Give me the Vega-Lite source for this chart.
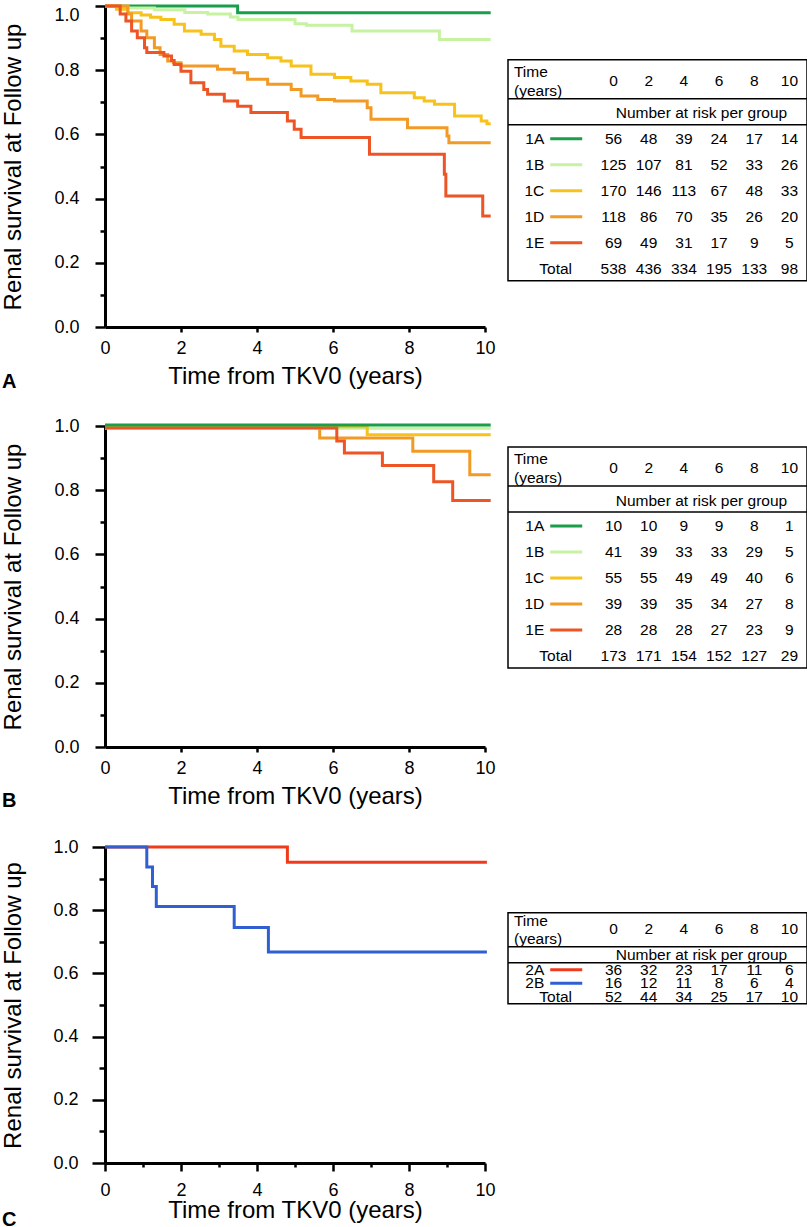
{
"$schema": "https://vega.github.io/schema/vega-lite/v6.json",
"padding": {"left": 1, "top": 0, "right": 0, "bottom": 0},
"background": "white",
"config": {
  "view": {"stroke": null},
  "font": "Liberation Sans",
  "axis": {"domainColor": "black", "domainWidth": 3, "tickColor": "black", "tickWidth": 2.5, "labelColor": "black", "labelFontSize": 18, "labelFont": "Liberation Sans", "titleFont": "Liberation Sans", "titleFontSize": 24, "titleFontWeight": "normal", "titleColor": "black", "grid": false, "labelFlush": false, "labelOverlap": false},
  "text": {"font": "Liberation Sans", "fontSize": 15.5, "color": "black", "baseline": "middle"},
  "title": {"font": "Liberation Sans", "color": "black"}
},
"datasets": {
  "kmA": [
    {"g":"1A","t":0,"s":1},{"g":"1A","t":3.49,"s":0.979},{"g":"1A","t":10.15,"s":0.979},
    {"g":"1B","t":0,"s":1},{"g":"1B","t":0.6,"s":0.994},{"g":"1B","t":1.3,"s":0.988},{"g":"1B","t":2.1,"s":0.98},{"g":"1B","t":2.7,"s":0.975},{"g":"1B","t":3.3,"s":0.966},{"g":"1B","t":3.5,"s":0.958},{"g":"1B","t":5.0,"s":0.945},{"g":"1B","t":5.3,"s":0.94},{"g":"1B","t":6.5,"s":0.922},{"g":"1B","t":8.8,"s":0.896},{"g":"1B","t":10.15,"s":0.896},
    {"g":"1C","t":0,"s":1},{"g":"1C","t":0.3,"s":0.99},{"g":"1C","t":0.6,"s":0.979},{"g":"1C","t":0.95,"s":0.972},{"g":"1C","t":1.2,"s":0.965},{"g":"1C","t":1.47,"s":0.958},{"g":"1C","t":1.82,"s":0.943},{"g":"1C","t":2.09,"s":0.922},{"g":"1C","t":2.53,"s":0.912},{"g":"1C","t":2.88,"s":0.896},{"g":"1C","t":3.05,"s":0.875},{"g":"1C","t":3.4,"s":0.86},{"g":"1C","t":3.75,"s":0.849},{"g":"1C","t":4.28,"s":0.839},{"g":"1C","t":4.63,"s":0.829},{"g":"1C","t":4.9,"s":0.813},{"g":"1C","t":5.42,"s":0.787},{"g":"1C","t":6.04,"s":0.777},{"g":"1C","t":6.47,"s":0.766},{"g":"1C","t":6.9,"s":0.756},{"g":"1C","t":7.26,"s":0.73},{"g":"1C","t":8.14,"s":0.714},{"g":"1C","t":8.4,"s":0.704},{"g":"1C","t":8.67,"s":0.694},{"g":"1C","t":9.2,"s":0.657},{"g":"1C","t":9.9,"s":0.642},{"g":"1C","t":10.05,"s":0.633},{"g":"1C","t":10.15,"s":0.633},
    {"g":"1D","t":0,"s":1},{"g":"1D","t":0.6,"s":0.975},{"g":"1D","t":0.7,"s":0.953},{"g":"1D","t":0.95,"s":0.922},{"g":"1D","t":1.1,"s":0.901},{"g":"1D","t":1.3,"s":0.87},{"g":"1D","t":1.45,"s":0.849},{"g":"1D","t":1.65,"s":0.829},{"g":"1D","t":1.8,"s":0.823},{"g":"1D","t":2.0,"s":0.813},{"g":"1D","t":2.96,"s":0.803},{"g":"1D","t":3.4,"s":0.792},{"g":"1D","t":3.75,"s":0.772},{"g":"1D","t":4.28,"s":0.756},{"g":"1D","t":4.9,"s":0.74},{"g":"1D","t":5.16,"s":0.72},{"g":"1D","t":5.6,"s":0.709},{"g":"1D","t":6.04,"s":0.704},{"g":"1D","t":6.9,"s":0.683},{"g":"1D","t":7.0,"s":0.647},{"g":"1D","t":7.96,"s":0.621},{"g":"1D","t":9.0,"s":0.595},{"g":"1D","t":9.05,"s":0.574},{"g":"1D","t":10.15,"s":0.574},
    {"g":"1E","t":0,"s":1},{"g":"1E","t":0.4,"s":0.975},{"g":"1E","t":0.55,"s":0.953},{"g":"1E","t":0.7,"s":0.922},{"g":"1E","t":0.85,"s":0.901},{"g":"1E","t":1.04,"s":0.87},{"g":"1E","t":1.1,"s":0.855},{"g":"1E","t":1.55,"s":0.844},{"g":"1E","t":1.75,"s":0.83},{"g":"1E","t":1.82,"s":0.818},{"g":"1E","t":2.0,"s":0.797},{"g":"1E","t":2.26,"s":0.761},{"g":"1E","t":2.6,"s":0.74},{"g":"1E","t":2.7,"s":0.725},{"g":"1E","t":3.14,"s":0.704},{"g":"1E","t":3.49,"s":0.688},{"g":"1E","t":3.84,"s":0.668},{"g":"1E","t":4.8,"s":0.642},{"g":"1E","t":4.98,"s":0.616},{"g":"1E","t":5.16,"s":0.59},{"g":"1E","t":6.96,"s":0.538},{"g":"1E","t":8.93,"s":0.476},{"g":"1E","t":8.97,"s":0.408},{"g":"1E","t":9.94,"s":0.346},{"g":"1E","t":10.15,"s":0.346}
  ],
  "kmB": [
    {"g":"1D","t":0,"s":1},{"g":"1D","t":5.65,"s":0.963},{"g":"1D","t":8.1,"s":0.921},{"g":"1D","t":9.6,"s":0.848},{"g":"1D","t":10.15,"s":0.848},
    {"g":"1B","t":0,"s":0.993},{"g":"1B","t":10.15,"s":0.993},
    {"g":"1C","t":0,"s":0.998},{"g":"1C","t":6.9,"s":0.973},{"g":"1C","t":10.15,"s":0.973},
    {"g":"1E","t":0,"s":0.994},{"g":"1E","t":6.1,"s":0.953},{"g":"1E","t":6.3,"s":0.916},{"g":"1E","t":7.3,"s":0.877},{"g":"1E","t":8.65,"s":0.826},{"g":"1E","t":9.15,"s":0.768},{"g":"1E","t":10.15,"s":0.768},
    {"g":"1A","t":0,"s":1.003},{"g":"1A","t":10.15,"s":1.003}
  ],
  "kmC": [
    {"g":"2A","t":0,"s":1},{"g":"2A","t":4.8,"s":0.952},{"g":"2A","t":10.05,"s":0.952},
    {"g":"2B","t":0,"s":1},{"g":"2B","t":1.1,"s":0.937},{"g":"2B","t":1.25,"s":0.875},{"g":"2B","t":1.35,"s":0.812},{"g":"2B","t":3.4,"s":0.745},{"g":"2B","t":4.3,"s":0.668},{"g":"2B","t":10.05,"s":0.668}
  ],
  "groups": [
    {"tab":"A","g":"1A","row":1},{"tab":"A","g":"1B","row":2},{"tab":"A","g":"1C","row":3},{"tab":"A","g":"1D","row":4},{"tab":"A","g":"1E","row":5},
    {"tab":"B","g":"1A","row":1},{"tab":"B","g":"1B","row":2},{"tab":"B","g":"1C","row":3},{"tab":"B","g":"1D","row":4},{"tab":"B","g":"1E","row":5},
    {"tab":"C","g":"2A","row":1},{"tab":"C","g":"2B","row":2}
  ],
  "risk": [
    {"tab":"A","row":1,"t":0,"n":56},{"tab":"A","row":1,"t":2,"n":48},{"tab":"A","row":1,"t":4,"n":39},{"tab":"A","row":1,"t":6,"n":24},{"tab":"A","row":1,"t":8,"n":17},{"tab":"A","row":1,"t":10,"n":14},
    {"tab":"A","row":2,"t":0,"n":125},{"tab":"A","row":2,"t":2,"n":107},{"tab":"A","row":2,"t":4,"n":81},{"tab":"A","row":2,"t":6,"n":52},{"tab":"A","row":2,"t":8,"n":33},{"tab":"A","row":2,"t":10,"n":26},
    {"tab":"A","row":3,"t":0,"n":170},{"tab":"A","row":3,"t":2,"n":146},{"tab":"A","row":3,"t":4,"n":113},{"tab":"A","row":3,"t":6,"n":67},{"tab":"A","row":3,"t":8,"n":48},{"tab":"A","row":3,"t":10,"n":33},
    {"tab":"A","row":4,"t":0,"n":118},{"tab":"A","row":4,"t":2,"n":86},{"tab":"A","row":4,"t":4,"n":70},{"tab":"A","row":4,"t":6,"n":35},{"tab":"A","row":4,"t":8,"n":26},{"tab":"A","row":4,"t":10,"n":20},
    {"tab":"A","row":5,"t":0,"n":69},{"tab":"A","row":5,"t":2,"n":49},{"tab":"A","row":5,"t":4,"n":31},{"tab":"A","row":5,"t":6,"n":17},{"tab":"A","row":5,"t":8,"n":9},{"tab":"A","row":5,"t":10,"n":5},
    {"tab":"A","row":6,"t":0,"n":538},{"tab":"A","row":6,"t":2,"n":436},{"tab":"A","row":6,"t":4,"n":334},{"tab":"A","row":6,"t":6,"n":195},{"tab":"A","row":6,"t":8,"n":133},{"tab":"A","row":6,"t":10,"n":98},
    {"tab":"B","row":1,"t":0,"n":10},{"tab":"B","row":1,"t":2,"n":10},{"tab":"B","row":1,"t":4,"n":9},{"tab":"B","row":1,"t":6,"n":9},{"tab":"B","row":1,"t":8,"n":8},{"tab":"B","row":1,"t":10,"n":1},
    {"tab":"B","row":2,"t":0,"n":41},{"tab":"B","row":2,"t":2,"n":39},{"tab":"B","row":2,"t":4,"n":33},{"tab":"B","row":2,"t":6,"n":33},{"tab":"B","row":2,"t":8,"n":29},{"tab":"B","row":2,"t":10,"n":5},
    {"tab":"B","row":3,"t":0,"n":55},{"tab":"B","row":3,"t":2,"n":55},{"tab":"B","row":3,"t":4,"n":49},{"tab":"B","row":3,"t":6,"n":49},{"tab":"B","row":3,"t":8,"n":40},{"tab":"B","row":3,"t":10,"n":6},
    {"tab":"B","row":4,"t":0,"n":39},{"tab":"B","row":4,"t":2,"n":39},{"tab":"B","row":4,"t":4,"n":35},{"tab":"B","row":4,"t":6,"n":34},{"tab":"B","row":4,"t":8,"n":27},{"tab":"B","row":4,"t":10,"n":8},
    {"tab":"B","row":5,"t":0,"n":28},{"tab":"B","row":5,"t":2,"n":28},{"tab":"B","row":5,"t":4,"n":28},{"tab":"B","row":5,"t":6,"n":27},{"tab":"B","row":5,"t":8,"n":23},{"tab":"B","row":5,"t":10,"n":9},
    {"tab":"B","row":6,"t":0,"n":173},{"tab":"B","row":6,"t":2,"n":171},{"tab":"B","row":6,"t":4,"n":154},{"tab":"B","row":6,"t":6,"n":152},{"tab":"B","row":6,"t":8,"n":127},{"tab":"B","row":6,"t":10,"n":29},
    {"tab":"C","row":1,"t":0,"n":36},{"tab":"C","row":1,"t":2,"n":32},{"tab":"C","row":1,"t":4,"n":23},{"tab":"C","row":1,"t":6,"n":17},{"tab":"C","row":1,"t":8,"n":11},{"tab":"C","row":1,"t":10,"n":6},
    {"tab":"C","row":2,"t":0,"n":16},{"tab":"C","row":2,"t":2,"n":12},{"tab":"C","row":2,"t":4,"n":11},{"tab":"C","row":2,"t":6,"n":8},{"tab":"C","row":2,"t":8,"n":6},{"tab":"C","row":2,"t":10,"n":4},
    {"tab":"C","row":3,"t":0,"n":52},{"tab":"C","row":3,"t":2,"n":44},{"tab":"C","row":3,"t":4,"n":34},{"tab":"C","row":3,"t":6,"n":25},{"tab":"C","row":3,"t":8,"n":17},{"tab":"C","row":3,"t":10,"n":10}
  ],
  "times": [{"t":0},{"t":2},{"t":4},{"t":6},{"t":8},{"t":10}],
  "one": [{}]
},
"columns": 2,
"bounds": "flush",
"align": "each",
"spacing": {"row": 0, "column": 23},
"concat": [
  {"width": 380, "height": 321,
   "title": {"text": "A", "orient": "bottom", "anchor": "start", "frame": "bounds", "fontSize": 20, "fontWeight": "bold", "offset": -16},
   "layer": [
    {"data": {"name": "kmA"}, "mark": {"type": "line", "interpolate": "step-after", "strokeWidth": 3},
     "encoding": {
      "x": {"field": "t", "type": "quantitative", "scale": {"domain": [0, 10], "nice": false, "zero": false},
            "axis": {"values": [0,2,4,6,8,10], "format": "d", "tickSize": 5, "labelPadding": 7, "title": "Time from TKV0 (years)", "titlePadding": 7,
                     "tickColor": {"condition": {"test": "datum.value === 0", "value": "transparent"}, "value": "black"}}},
      "y": {"field": "s", "type": "quantitative", "scale": {"domain": [0, 1], "nice": false, "zero": false},
            "axis": {"values": [0,0.2,0.4,0.6,0.8,1], "format": ".1f", "tickSize": 10, "labelPadding": 16, "title": "Renal survival at Follow up", "titlePadding": 28,
                     "labelBaseline": {"condition": {"test": "datum.value === 1", "value": "top"}, "value": "middle"}}},
      "color": {"field": "g", "type": "nominal", "scale": {"domain": ["1A","1B","1C","1D","1E","2A","2B"], "range": ["#1b9e4b","#c6f2a2","#f8c21c","#f29a26","#ee5526","#ef3b1c","#2f5fd0"]}, "legend": null}
     }},
    {"data": {"name": "one"}, "mark": {"type": "point", "opacity": 0},
     "encoding": {"y": {"datum": 0.5, "type": "quantitative", "axis": {"orient": "left", "values": [0.1,0.3,0.5,0.7,0.9], "tickSize": 5, "labels": false, "domain": false, "title": null}}}}
   ],
   "resolve": {"axis": {"y": "independent"}}
  },
  {"width": 299, "height": 419.5,
   "layer": [
    {"data": {"name": "one"}, "mark": {"type": "rect", "fill": "transparent", "stroke": "black", "strokeWidth": 1.5},
     "encoding": {"x": {"datum": -6, "type": "quantitative", "scale": {"domain": [-6, 11], "nice": false, "zero": false}, "axis": null}, "x2": {"datum": 11},
                  "y": {"datum": -2.04, "type": "quantitative", "scale": {"domain": [-4.108, 12.027], "nice": false, "zero": false, "reverse": true}, "axis": null}, "y2": {"datum": 6.46}}},
    {"data": {"name": "one"}, "mark": {"type": "rule", "stroke": "black", "strokeWidth": 1.5},
     "encoding": {"x": {"datum": -6, "type": "quantitative"}, "x2": {"datum": 11}, "y": {"datum": -0.54, "type": "quantitative"}}},
    {"data": {"name": "one"}, "mark": {"type": "rule", "stroke": "black", "strokeWidth": 1.5},
     "encoding": {"x": {"datum": -6, "type": "quantitative"}, "x2": {"datum": 11}, "y": {"datum": 0.46, "type": "quantitative"}}},
    {"data": {"name": "one"}, "mark": {"type": "text", "align": "left"},
     "encoding": {"x": {"datum": -5.66, "type": "quantitative"}, "y": {"datum": -1.56, "type": "quantitative"}, "text": {"value": "Time"}}},
    {"data": {"name": "one"}, "mark": {"type": "text", "align": "left"},
     "encoding": {"x": {"datum": -5.66, "type": "quantitative"}, "y": {"datum": -0.85, "type": "quantitative"}, "text": {"value": "(years)"}}},
    {"data": {"name": "times"}, "mark": {"type": "text"},
     "encoding": {"x": {"field": "t", "type": "quantitative"}, "y": {"datum": -1.23, "type": "quantitative"}, "text": {"field": "t"}}},
    {"data": {"name": "one"}, "mark": {"type": "text"},
     "encoding": {"x": {"datum": 5.0, "type": "quantitative"}, "y": {"datum": 0.02, "type": "quantitative"}, "text": {"value": "Number at risk per group"}}},
    {"data": {"name": "risk"}, "transform": [{"filter": "datum.tab === 'A'"}], "mark": {"type": "text"},
     "encoding": {"x": {"field": "t", "type": "quantitative"}, "y": {"field": "row", "type": "quantitative"}, "text": {"field": "n"}}},
    {"data": {"name": "groups"}, "transform": [{"filter": "datum.tab === 'A'"}], "mark": {"type": "text", "align": "right"},
     "encoding": {"x": {"datum": -3.94, "type": "quantitative"}, "y": {"field": "row", "type": "quantitative"}, "text": {"field": "g"}}},
    {"data": {"name": "groups"}, "transform": [{"filter": "datum.tab === 'A'"}], "mark": {"type": "rule", "strokeWidth": 3},
     "encoding": {"x": {"datum": -3.6, "type": "quantitative"}, "x2": {"datum": -1.78}, "y": {"field": "row", "type": "quantitative"},
                  "color": {"field": "g", "type": "nominal", "legend": null}}},
    {"data": {"name": "one"}, "mark": {"type": "text"},
     "encoding": {"x": {"datum": -3.29, "type": "quantitative"}, "y": {"datum": 6, "type": "quantitative"}, "text": {"value": "Total"}}}
   ]
  },
  {"width": 380, "height": 321,
   "title": {"text": "B", "orient": "bottom", "anchor": "start", "frame": "bounds", "fontSize": 20, "fontWeight": "bold", "offset": -17},
   "layer": [
    {"data": {"name": "kmB"}, "mark": {"type": "line", "interpolate": "step-after", "strokeWidth": 3},
     "encoding": {
      "x": {"field": "t", "type": "quantitative", "scale": {"domain": [0, 10], "nice": false, "zero": false},
            "axis": {"values": [0,2,4,6,8,10], "format": "d", "tickSize": 5, "labelPadding": 7, "title": "Time from TKV0 (years)", "titlePadding": 7,
                     "tickColor": {"condition": {"test": "datum.value === 0", "value": "transparent"}, "value": "black"}}},
      "y": {"field": "s", "type": "quantitative", "scale": {"domain": [0, 1], "nice": false, "zero": false},
            "axis": {"values": [0,0.2,0.4,0.6,0.8,1], "format": ".1f", "tickSize": 10, "labelPadding": 16, "title": "Renal survival at Follow up", "titlePadding": 28}},
      "color": {"field": "g", "type": "nominal", "scale": {"domain": ["1A","1B","1C","1D","1E","2A","2B"], "range": ["#1b9e4b","#c6f2a2","#f8c21c","#f29a26","#ee5526","#ef3b1c","#2f5fd0"]}, "legend": null}
     }},
    {"data": {"name": "one"}, "mark": {"type": "point", "opacity": 0},
     "encoding": {"y": {"datum": 0.5, "type": "quantitative", "axis": {"orient": "left", "values": [0.1,0.3,0.5,0.7,0.9], "tickSize": 5, "labels": false, "domain": false, "title": null}}}}
   ],
   "resolve": {"axis": {"y": "independent"}}
  },
  {"width": 299, "height": 420.3,
   "layer": [
    {"data": {"name": "one"}, "mark": {"type": "rect", "fill": "transparent", "stroke": "black", "strokeWidth": 1.5},
     "encoding": {"x": {"datum": -6, "type": "quantitative", "scale": {"domain": [-6, 11], "nice": false, "zero": false}, "axis": null}, "x2": {"datum": 11},
                  "y": {"datum": -2.04, "type": "quantitative", "scale": {"domain": [-2.846, 13.319], "nice": false, "zero": false, "reverse": true}, "axis": null}, "y2": {"datum": 6.46}}},
    {"data": {"name": "one"}, "mark": {"type": "rule", "stroke": "black", "strokeWidth": 1.5},
     "encoding": {"x": {"datum": -6, "type": "quantitative"}, "x2": {"datum": 11}, "y": {"datum": -0.54, "type": "quantitative"}}},
    {"data": {"name": "one"}, "mark": {"type": "rule", "stroke": "black", "strokeWidth": 1.5},
     "encoding": {"x": {"datum": -6, "type": "quantitative"}, "x2": {"datum": 11}, "y": {"datum": 0.46, "type": "quantitative"}}},
    {"data": {"name": "one"}, "mark": {"type": "text", "align": "left"},
     "encoding": {"x": {"datum": -5.66, "type": "quantitative"}, "y": {"datum": -1.56, "type": "quantitative"}, "text": {"value": "Time"}}},
    {"data": {"name": "one"}, "mark": {"type": "text", "align": "left"},
     "encoding": {"x": {"datum": -5.66, "type": "quantitative"}, "y": {"datum": -0.85, "type": "quantitative"}, "text": {"value": "(years)"}}},
    {"data": {"name": "times"}, "mark": {"type": "text"},
     "encoding": {"x": {"field": "t", "type": "quantitative"}, "y": {"datum": -1.23, "type": "quantitative"}, "text": {"field": "t"}}},
    {"data": {"name": "one"}, "mark": {"type": "text"},
     "encoding": {"x": {"datum": 5.0, "type": "quantitative"}, "y": {"datum": 0.02, "type": "quantitative"}, "text": {"value": "Number at risk per group"}}},
    {"data": {"name": "risk"}, "transform": [{"filter": "datum.tab === 'B'"}], "mark": {"type": "text"},
     "encoding": {"x": {"field": "t", "type": "quantitative"}, "y": {"field": "row", "type": "quantitative"}, "text": {"field": "n"}}},
    {"data": {"name": "groups"}, "transform": [{"filter": "datum.tab === 'B'"}], "mark": {"type": "text", "align": "right"},
     "encoding": {"x": {"datum": -3.94, "type": "quantitative"}, "y": {"field": "row", "type": "quantitative"}, "text": {"field": "g"}}},
    {"data": {"name": "groups"}, "transform": [{"filter": "datum.tab === 'B'"}], "mark": {"type": "rule", "strokeWidth": 3},
     "encoding": {"x": {"datum": -3.6, "type": "quantitative"}, "x2": {"datum": -1.78}, "y": {"field": "row", "type": "quantitative"},
                  "color": {"field": "g", "type": "nominal", "legend": null}}},
    {"data": {"name": "one"}, "mark": {"type": "text"},
     "encoding": {"x": {"datum": -3.29, "type": "quantitative"}, "y": {"datum": 6, "type": "quantitative"}, "text": {"value": "Total"}}}
   ]
  },
  {"width": 380, "height": 316,
   "title": {"text": "C", "orient": "bottom", "anchor": "start", "frame": "bounds", "fontSize": 20, "fontWeight": "bold", "offset": -12},
   "layer": [
    {"data": {"name": "kmC"}, "mark": {"type": "line", "interpolate": "step-after", "strokeWidth": 3},
     "encoding": {
      "x": {"field": "t", "type": "quantitative", "scale": {"domain": [0, 10], "nice": false, "zero": false},
            "axis": {"values": [0,2,4,6,8,10], "format": "d", "tickSize": 8, "labelPadding": 10, "title": "Time from TKV0 (years)", "titlePadding": -1}},
      "y": {"field": "s", "type": "quantitative", "scale": {"domain": [0, 1], "nice": false, "zero": false},
            "axis": {"values": [0,0.2,0.4,0.6,0.8,1], "format": ".1f", "tickSize": 13, "labelPadding": 14, "title": "Renal survival at Follow up", "titlePadding": 27}},
      "color": {"field": "g", "type": "nominal", "scale": {"domain": ["1A","1B","1C","1D","1E","2A","2B"], "range": ["#1b9e4b","#c6f2a2","#f8c21c","#f29a26","#ee5526","#ef3b1c","#2f5fd0"]}, "legend": null}
     }},
    {"data": {"name": "one"}, "mark": {"type": "point", "opacity": 0},
     "encoding": {"y": {"datum": 0.5, "type": "quantitative", "axis": {"orient": "left", "values": [0.1,0.3,0.5,0.7,0.9], "tickSize": 6, "labels": false, "domain": false, "title": null}},
                  "x": {"datum": 5, "type": "quantitative", "axis": {"orient": "bottom", "values": [1,3,5,7,9], "tickSize": 4, "labels": false, "domain": false, "title": null}}}}
   ],
   "resolve": {"axis": {"y": "independent", "x": "independent"}}
  },
  {"width": 299, "height": 316,
   "layer": [
    {"data": {"name": "one"}, "mark": {"type": "rect", "fill": "transparent", "stroke": "black", "strokeWidth": 1.5},
     "encoding": {"x": {"datum": -6, "type": "quantitative", "scale": {"domain": [-6, 11], "nice": false, "zero": false}, "axis": null}, "x2": {"datum": 11},
                  "y": {"datum": -3.22, "type": "quantitative", "scale": {"domain": [-8.089, 15.319], "nice": false, "zero": false, "reverse": true}, "axis": null}, "y2": {"datum": 3.52}}},
    {"data": {"name": "one"}, "mark": {"type": "rule", "stroke": "black", "strokeWidth": 1.5},
     "encoding": {"x": {"datum": -6, "type": "quantitative"}, "x2": {"datum": 11}, "y": {"datum": -0.7, "type": "quantitative"}}},
    {"data": {"name": "one"}, "mark": {"type": "rule", "stroke": "black", "strokeWidth": 1.5},
     "encoding": {"x": {"datum": -6, "type": "quantitative"}, "x2": {"datum": 11}, "y": {"datum": 0.48, "type": "quantitative"}}},
    {"data": {"name": "one"}, "mark": {"type": "text", "align": "left"},
     "encoding": {"x": {"datum": -5.66, "type": "quantitative"}, "y": {"datum": -2.63, "type": "quantitative"}, "text": {"value": "Time"}}},
    {"data": {"name": "one"}, "mark": {"type": "text", "align": "left"},
     "encoding": {"x": {"datum": -5.66, "type": "quantitative"}, "y": {"datum": -1.3, "type": "quantitative"}, "text": {"value": "(years)"}}},
    {"data": {"name": "times"}, "mark": {"type": "text"},
     "encoding": {"x": {"field": "t", "type": "quantitative"}, "y": {"datum": -2.04, "type": "quantitative"}, "text": {"field": "t"}}},
    {"data": {"name": "one"}, "mark": {"type": "text"},
     "encoding": {"x": {"datum": 5.0, "type": "quantitative"}, "y": {"datum": -0.11, "type": "quantitative"}, "text": {"value": "Number at risk per group"}}},
    {"data": {"name": "risk"}, "transform": [{"filter": "datum.tab === 'C'"}], "mark": {"type": "text"},
     "encoding": {"x": {"field": "t", "type": "quantitative"}, "y": {"field": "row", "type": "quantitative"}, "text": {"field": "n"}}},
    {"data": {"name": "groups"}, "transform": [{"filter": "datum.tab === 'C'"}], "mark": {"type": "text", "align": "right"},
     "encoding": {"x": {"datum": -3.94, "type": "quantitative"}, "y": {"field": "row", "type": "quantitative"}, "text": {"field": "g"}}},
    {"data": {"name": "groups"}, "transform": [{"filter": "datum.tab === 'C'"}], "mark": {"type": "rule", "strokeWidth": 3},
     "encoding": {"x": {"datum": -3.6, "type": "quantitative"}, "x2": {"datum": -1.78}, "y": {"field": "row", "type": "quantitative"},
                  "color": {"field": "g", "type": "nominal", "legend": null}}},
    {"data": {"name": "one"}, "mark": {"type": "text"},
     "encoding": {"x": {"datum": -3.29, "type": "quantitative"}, "y": {"datum": 3, "type": "quantitative"}, "text": {"value": "Total"}}}
   ]
  }
]
}
